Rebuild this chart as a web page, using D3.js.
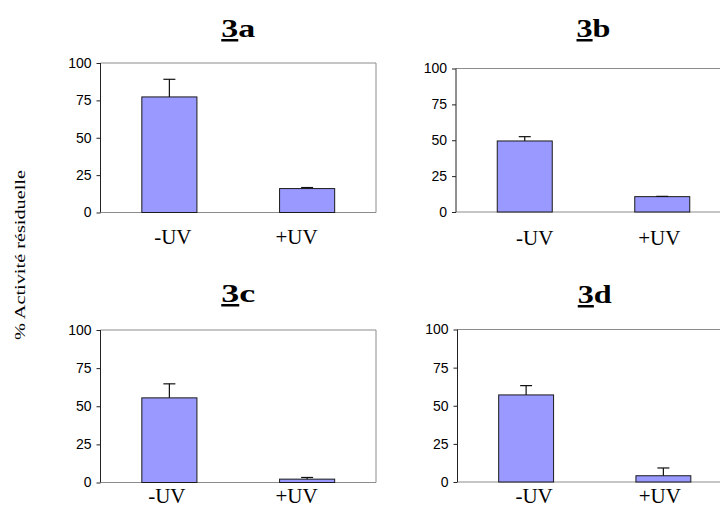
<!DOCTYPE html>
<html lang="fr">
<head>
<meta charset="UTF-8">
<title>Activité résiduelle</title>
<style>
  body { margin: 0; background: #fff; }
  svg { display: block; }
  .serif { font-family: 'Liberation Serif', 'Times New Roman', serif; }
</style>
</head>
<body>
<div id="chart"></div>
<script src="https://d3js.org/d3.v7.min.js"></script>
<script>
// data
const categories = ['-UV', '+UV'];
const panels = ['3a', '3b', '3c', '3d'];
const yTicks = [0, 25, 50, 75, 100];

const mean3a = [77.3, 16.0];
const err3a  = [11.8, 0.7];
const mean3b = [49.5, 10.7];
const err3b  = [3.0, 0.2];
const mean3c = [55.5, 2.2];
const err3c  = [9.2, 1.1];
const mean3d = [57.1, 4.1];
const err3d  = [6.1, 5.1];

const means = [mean3a, mean3b, mean3c, mean3d];
const errs = [err3a, err3b, err3c, err3d];

const w = 720, h = 508;
const barColor = '#9999ff';

// panel boxes (layout only)
const layout = [
  { x0: 100.5, x1: 376, y0: 63,   y1: 212.5, titleY: 37,  labY: 243.5, dx: [3.5, -10.5] },
  { x0: 456,   x1: 731, y0: 68.5, y1: 212,   titleY: 37,  labY: 245,   dx: [10, -3] },
  { x0: 100.5, x1: 376, y0: 330,  y1: 482.5, titleY: 302, labY: 503,   dx: [-2.5, -10.5] },
  { x0: 457.5, x1: 732, y0: 329.5, y1: 482,  titleY: 303, labY: 503,   dx: [8, -3.5] }
];

const svg = d3.select('#chart').append('svg')
  .attr('width', w)
  .attr('height', h);

panels.forEach((name, i) => {
  const L = layout[i];
  const data = categories.map((c, j) => ({ cat: c, v: means[i][j], e: errs[i][j], dx: L.dx[j] }));

  const x = d3.scaleBand().domain(categories).range([L.x0, L.x1])
    .paddingInner(0.6).paddingOuter(0.3);
  const y = d3.scaleLinear().domain([0, 100]).range([L.y1, L.y0]);

  const g = svg.append('g');

  // top + right frame
  g.append('path')
    .attr('d', `M${L.x0},${y(100)}H${L.x1}V${y(0)}`)
    .attr('fill', 'none')
    .attr('stroke', '#8c8c8c')
    .attr('stroke-width', 1);

  // bottom axis line
  g.append('line')
    .attr('x1', L.x0).attr('x2', L.x1)
    .attr('y1', y(0)).attr('y2', y(0))
    .attr('stroke', '#8c8c8c');

  // left axis
  const yAxis = d3.axisLeft(y).tickValues(yTicks).tickSize(4).tickPadding(5);
  const ga = g.append('g')
    .attr('transform', `translate(${L.x0},0)`)
    .call(yAxis);
  ga.select('.domain').attr('stroke', '#222').attr('d', `M0,${y(0)}V${y(100)}`);
  ga.selectAll('.tick line').attr('stroke', '#222');
  ga.selectAll('.tick text')
    .attr('fill', '#000')
    .attr('font-family', 'Liberation Sans, Arial, sans-serif')
    .attr('font-size', 14);

  // bars
  g.selectAll('.bar')
    .data(data)
    .enter()
    .append('rect')
    .attr('class', 'bar')
    .attr('x', d => x(d.cat))
    .attr('width', x.bandwidth())
    .attr('y', d => y(d.v))
    .attr('height', d => y(0) - y(d.v))
    .attr('fill', barColor)
    .attr('stroke', '#1a1a1a')
    .attr('stroke-width', 1);

  // error bars (upper only)
  const eb = g.selectAll('.err')
    .data(data)
    .enter()
    .append('g')
    .attr('class', 'err')
    .attr('stroke', '#111')
    .attr('stroke-width', 1.2);
  eb.append('line')
    .attr('x1', d => x(d.cat) + x.bandwidth() / 2)
    .attr('x2', d => x(d.cat) + x.bandwidth() / 2)
    .attr('y1', d => y(d.v))
    .attr('y2', d => y(d.v + d.e));
  eb.append('line')
    .attr('x1', d => x(d.cat) + x.bandwidth() / 2 - 6)
    .attr('x2', d => x(d.cat) + x.bandwidth() / 2 + 6)
    .attr('y1', d => y(d.v + d.e))
    .attr('y2', d => y(d.v + d.e));

  // category labels
  g.selectAll('.cat')
    .data(data)
    .enter()
    .append('text')
    .attr('class', 'cat serif')
    .attr('x', d => x(d.cat) + x.bandwidth() / 2 + d.dx)
    .attr('y', L.labY)
    .attr('text-anchor', 'middle')
    .attr('font-size', 21)
    .text(d => d.cat);

  // panel title, "3" underlined
  const t = g.append('text')
    .attr('class', 'serif')
    .attr('x', (L.x0 + L.x1) / 2)
    .attr('y', L.titleY)
    .attr('text-anchor', 'middle')
    .attr('font-size', 25)
    .attr('font-weight', 'bold')
    .attr('textLength', 34)
    .attr('lengthAdjust', 'spacingAndGlyphs');
  t.append('tspan').attr('text-decoration', 'underline').text(name.slice(0, 1));
  t.append('tspan').text(name.slice(1));
});

// shared y title
svg.append('text')
  .attr('class', 'serif')
  .attr('transform', 'translate(25,255) rotate(-90)')
  .attr('text-anchor', 'middle')
  .attr('textLength', 170)
  .attr('lengthAdjust', 'spacingAndGlyphs')
  .attr('font-size', 15)
  .text('% Activité résiduelle');
</script>
</body>
</html>
